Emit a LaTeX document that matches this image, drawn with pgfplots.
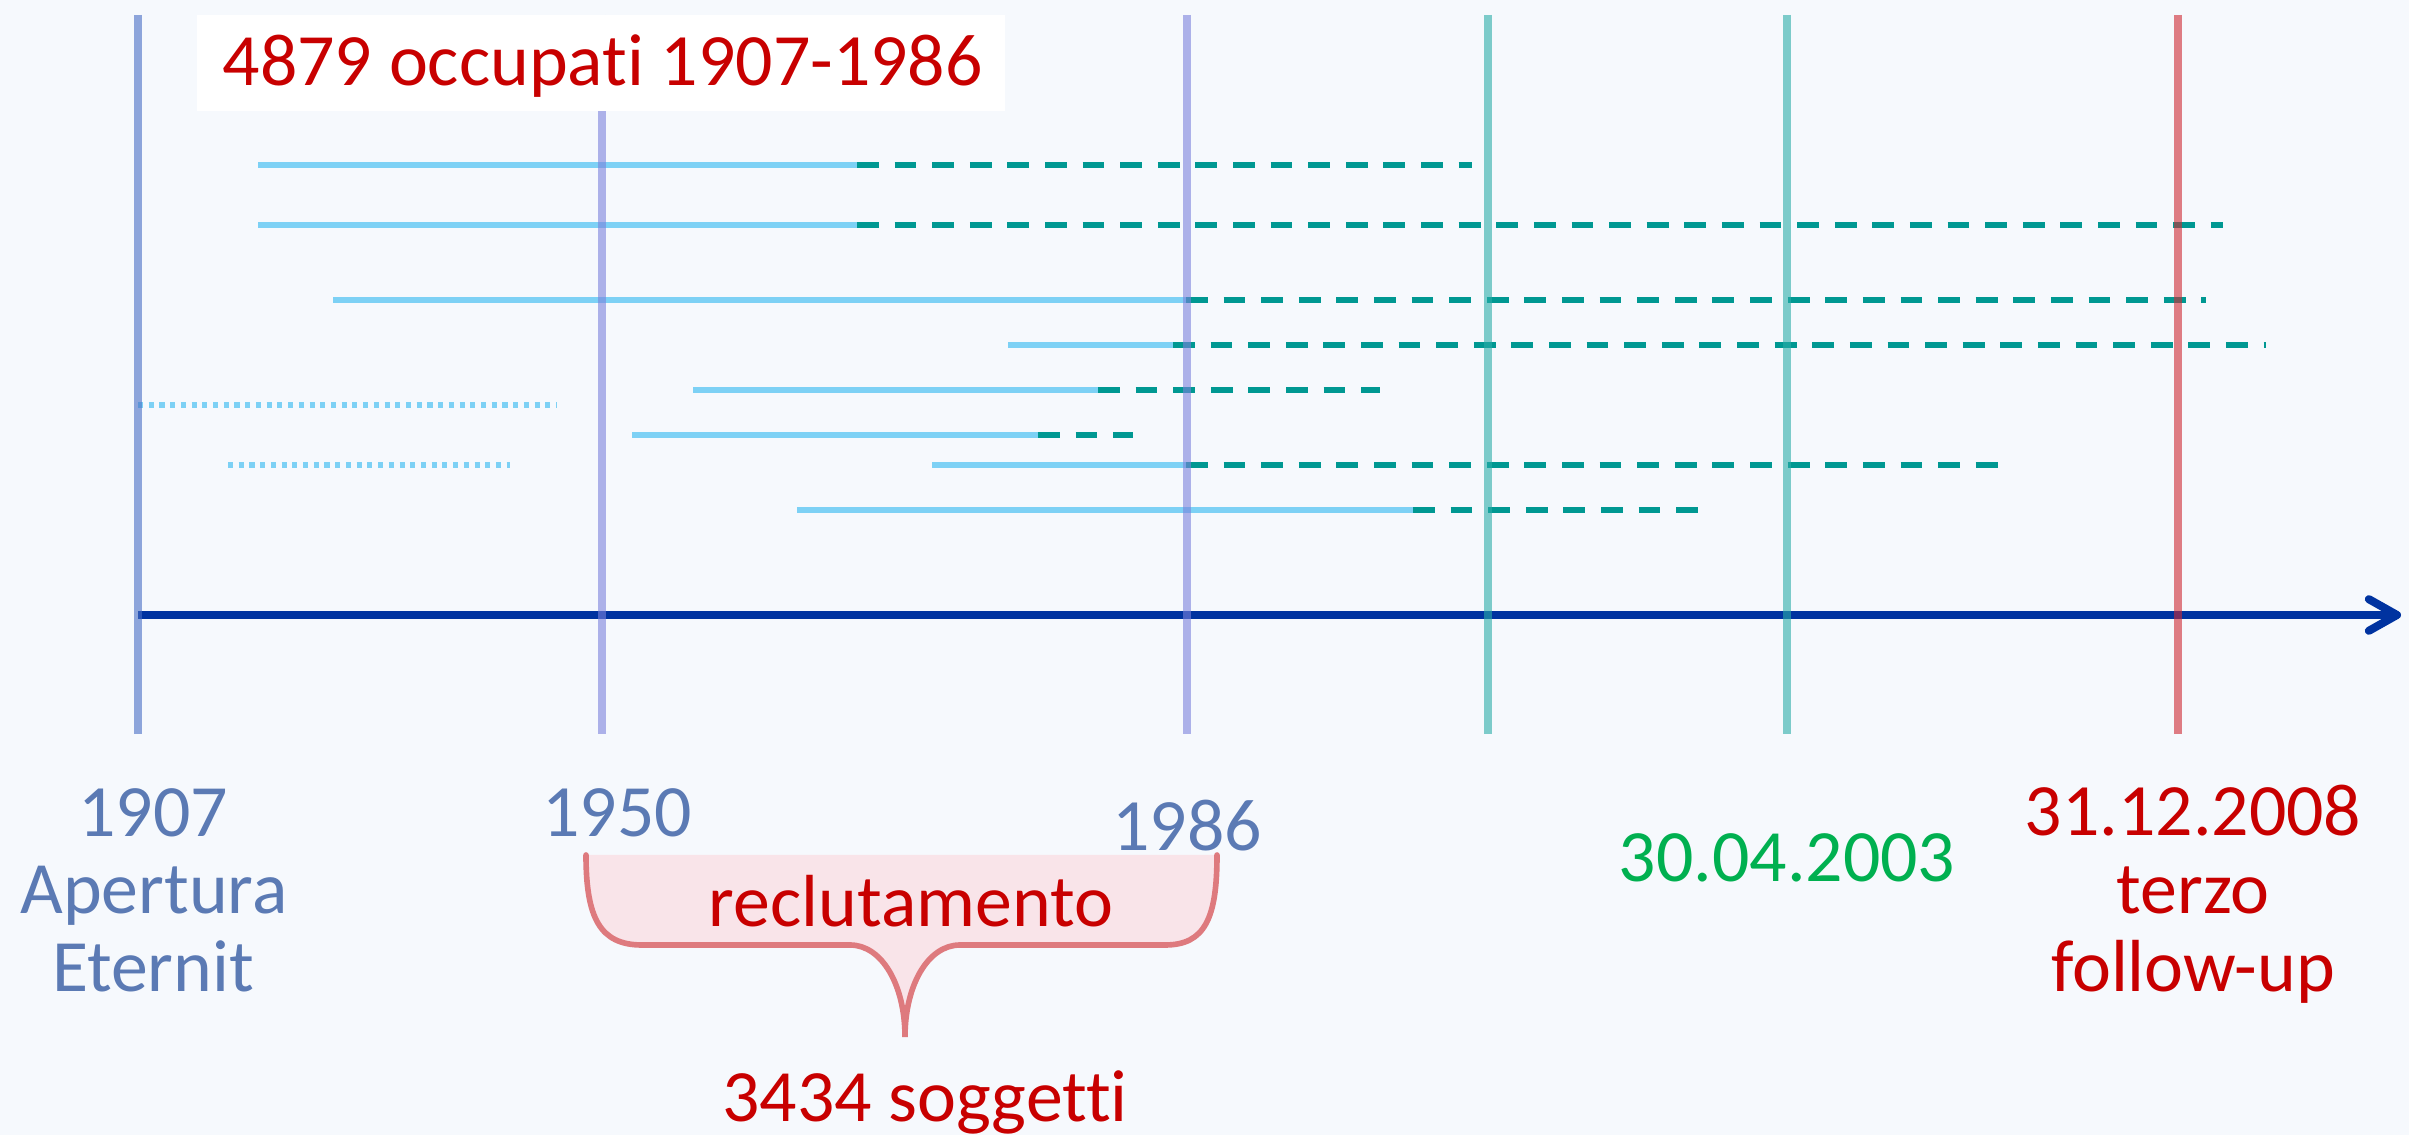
\documentclass[border=0pt]{standalone}
\usepackage{pgfplots}
\pgfplotsset{compat=1.18}
\usetikzlibrary{arrows.meta}
\usepackage{fontspec}
\setmainfont[Ligatures={NoCommon,NoContextual}]{Carlito}

\definecolor{bg}{RGB}{246,249,253}
\definecolor{barblue}{RGB}{125,209,245}
\definecolor{dashteal}{RGB}{0,152,146}
\definecolor{axisblue}{RGB}{0,51,160}
\definecolor{lblue}{RGB}{91,122,180}
\definecolor{lred}{RGB}{200,0,0}
\definecolor{lgreen}{RGB}{0,176,80}
\definecolor{vopen}{RGB}{72,110,197}
\definecolor{vlav}{RGB}{123,130,220}
\definecolor{vteal}{RGB}{43,173,168}
\definecolor{vred}{RGB}{207,42,50}
\definecolor{bracefill}{RGB}{249,228,233}
\definecolor{bracedraw}{RGB}{222,122,126}

\begin{document}
\begin{tikzpicture}[
  solid seg/.style={barblue, line width=1.7pt},
  dash seg/.style={dashteal, line width=1.7pt, dash pattern=on 6.2pt off 4.5pt},
  dot seg/.style={barblue, line width=1.45pt, dash pattern=on 1.45pt off 1.6pt},
  event/.style={line width=2.3pt, draw opacity=0.6},
  lab/.style={font=\fontsize{21}{24}\selectfont, anchor=base, inner sep=0pt},
]
\begin{axis}[
  width=24.09cm, height=11.35cm, scale only axis,
  xmin=0, xmax=2409, ymin=0, ymax=1135, y dir=reverse,
  hide axis, clip=false,
]
% background
\fill[bg] (axis cs:0,0) rectangle (axis cs:2409,1135);

% follow-up of each worker: exposure (solid) then follow-up (dashed)
\addplot[solid seg] coordinates {(258,165) (857,165)};
\addplot[dash seg]  coordinates {(857,165) (1472,165)};
\addplot[solid seg] coordinates {(258,225) (857,225)};
\addplot[dash seg]  coordinates {(857,225) (2223,225)};
\addplot[solid seg] coordinates {(333,300) (1186,300)};
\addplot[dash seg]  coordinates {(1186,300) (2206,300)};
\addplot[solid seg] coordinates {(1008,345) (1173,345)};
\addplot[dash seg]  coordinates {(1173,345) (2266,345)};
\addplot[solid seg] coordinates {(693,390) (1098,390)};
\addplot[dash seg]  coordinates {(1098,390) (1380,390)};
\addplot[solid seg] coordinates {(632,435) (1038,435)};
\addplot[dash seg]  coordinates {(1038,435) (1133,435)};
\addplot[solid seg] coordinates {(932,465) (1186,465)};
\addplot[dash seg]  coordinates {(1186,465) (2011,465)};
\addplot[solid seg] coordinates {(797,510) (1413,510)};
\addplot[dash seg]  coordinates {(1413,510) (1711,510)};
% workers not recruited
\addplot[dot seg] coordinates {(138,405) (557,405)};
\addplot[dot seg] coordinates {(228,465) (510,465)};

% time axis
\addplot[axisblue, line width=2.3pt, -{Straight Barb[length=8pt, width=9pt, round]}]
  coordinates {(138,615) (2401,615)};

% event lines
\addplot[event, vopen] coordinates {(138,15) (138,734)};
\addplot[event, vlav]  coordinates {(602,15) (602,734)};
\addplot[event, vlav]  coordinates {(1187,15) (1187,734)};
\addplot[event, vteal] coordinates {(1488,15) (1488,734)};
\addplot[event, vteal] coordinates {(1787,15) (1787,734)};
\addplot[event, vred]  coordinates {(2178,15) (2178,734)};

% title box
\fill[white] (axis cs:197,15) rectangle (axis cs:1005,111);
\node[lab, anchor=base west, lred] at (axis cs:222,86) {4879 occupati 1907-1986};

% recruitment brace
\def\bracepath{(axis cs:586,855) .. controls (axis cs:586,918) and (axis cs:600,945) .. (axis cs:642,945)
  -- (axis cs:850,945) .. controls (axis cs:882,945) and (axis cs:905,985) .. (axis cs:905,1037)
  .. controls (axis cs:905,985) and (axis cs:928,945) .. (axis cs:960,945)
  -- (axis cs:1165,945) .. controls (axis cs:1205,945) and (axis cs:1217,918) .. (axis cs:1217,855)}
\fill[bracefill] \bracepath -- cycle;
\draw[bracedraw, line width=1.6pt, line cap=round] \bracepath;

% labels
\node[lab, lblue] at (axis cs:153,837) {1907};
\node[lab, lblue] at (axis cs:154,914) {Apertura};
\node[lab, lblue] at (axis cs:153,991) {Eternit};
\node[lab, lblue] at (axis cs:617,837) {1950};
\node[lab, lblue] at (axis cs:1187,851) {1986};
\node[lab, lred] at (axis cs:911,927) {reclutamento};
\node[lab, lred] at (axis cs:925,1121) {3434 soggetti};
\node[lab, lgreen] at (axis cs:1787,881) {30.04.2003};
\node[lab, lred] at (axis cs:2193,836) {31.12.2008};
\node[lab, lred] at (axis cs:2193,913) {terzo};
\node[lab, lred] at (axis cs:2193,991) {follow-up};
\end{axis}
\end{tikzpicture}
\end{document}
